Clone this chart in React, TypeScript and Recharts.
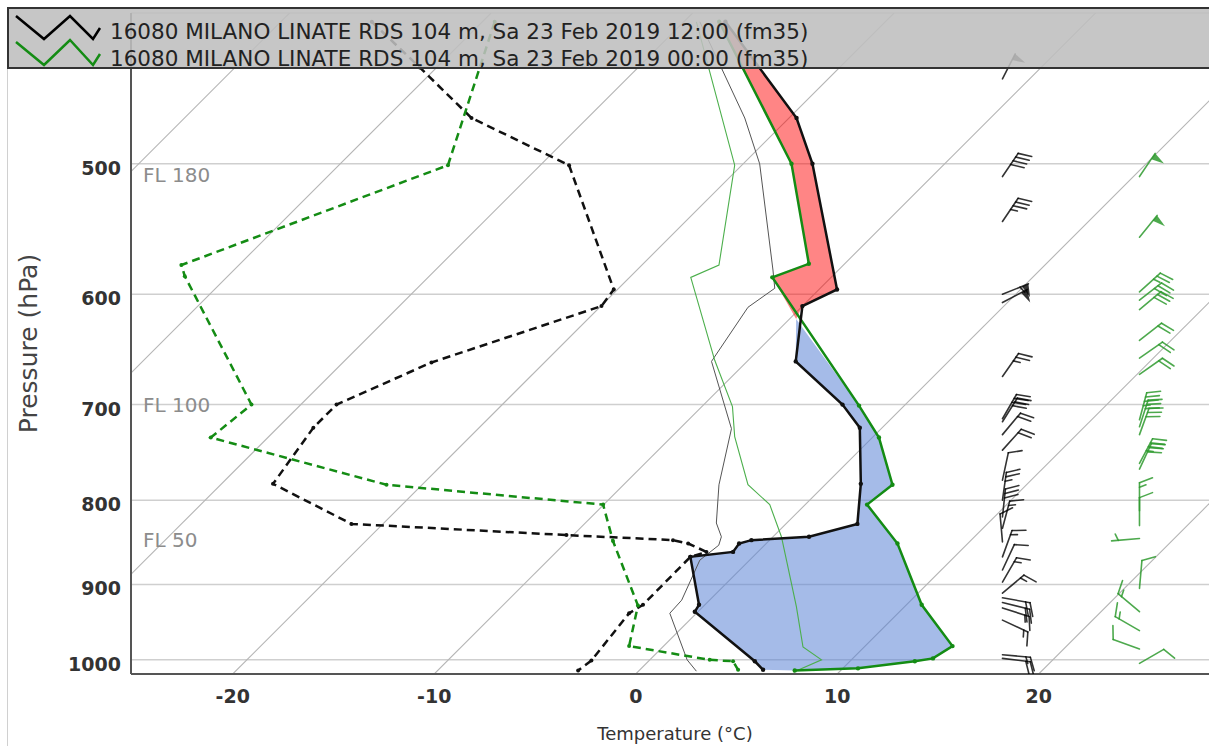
import React from 'react';
import { ScatterChart, Scatter, XAxis, YAxis, CartesianGrid, ReferenceLine } from 'recharts';

const WIDTH = 1209;
const HEIGHT = 746;

// axes
const tempTicks = [-20, -10, 0, 10, 20];
const pressureTicks = [500, 600, 700, 800, 900, 1000];
const isotherms = [-50, -40, -30, -20, -10, 0, 10, 20];
const flLabels = ['FL 180', 'FL 100', 'FL 50'];
const flPressure = [508, 700, 846];

const P_BOTTOM = 1020;
const P_TOP = 405;
const SKEW = 716 / 20.15; // x shift (°C) per unit of ln(p), 45° isotherms

// 12:00 sounding (black), x = skewed temperature position
const noonTempP = [410, 469, 500, 596, 610, 659, 700, 723, 782, 827, 842, 846, 850, 860, 866, 926, 935, 1002, 1014];
const noonTempT = [4.45, 7.98, 8.77, 9.99, 8.27, 7.94, 10.26, 11.12, 11.17, 11.0, 8.6, 5.74, 5.13, 4.83, 2.71, 3.14, 2.93, 5.91, 6.32];
const noonDewP = [410, 437, 469, 501, 596, 610, 660, 700, 723, 782, 827, 840, 846, 850, 860, 866, 926, 937, 1001, 1015];
const noonDewT = [-13.1, -10.72, -8.15, -3.31, -1.09, -1.7, -10.14, -14.85, -16.0, -18.0, -14.11, -3.44, 1.85, 2.6, 3.51, 2.71, 0.36, -0.33, -2.2, -2.86];
const noonWetP = [410, 469, 500, 580, 595, 611, 659, 724, 783, 826, 842, 852, 870, 920, 937, 1000, 1016];
const noonWetT = [3.18, 5.41, 6.15, 6.81, 6.9, 5.57, 3.76, 4.75, 4.13, 4.0, 4.25, 4.12, 3.18, 2.28, 1.69, 2.55, 3.01];

// 00:00 sounding (green)
const nightTempP = [410, 500, 575, 586, 701, 733, 783, 805, 850, 926, 981, 998, 1002, 1012, 1015];
const nightTempT = [4.14, 7.73, 8.59, 6.78, 11.08, 12.07, 12.74, 11.48, 12.99, 14.19, 15.72, 14.75, 13.85, 11.03, 7.89];
const nightDewP = [410, 501, 576, 585, 700, 733, 783, 805, 847, 927, 981, 1000, 1002, 1014];
const nightDewT = [-7.0, -9.32, -22.55, -22.38, -19.07, -21.09, -12.37, -1.62, -1.13, 0.11, -0.33, 3.67, 4.83, 5.08];
const nightWetP = [410, 501, 576, 586, 658, 702, 732, 783, 805, 842, 870, 928, 982, 1000, 1017];
const nightWetT = [3.01, 4.91, 4.13, 2.73, 3.92, 4.8, 4.91, 5.57, 6.65, 7.23, 7.48, 7.97, 8.3, 9.22, 7.84];

// where the two temperature curves cross
const crossing = { p: 621, t: 7.96 };

// winds (direction in degrees, speed in knots)
const noonWindP = [444, 509, 542, 600, 607, 673, 714, 717, 730, 746, 778, 800, 819, 832, 848, 866, 882, 897, 911, 917, 923, 930, 946, 993, 998];
const noonWindDir = [27, 34, 34, 68, 62, 35, 30, 32, 40, 42, 12, 8, 6, 15, 355, 20, 25, 30, 50, 100, 104, 108, 115, 95, 97];
const noonWindKt = [50, 40, 35, 55, 50, 25, 30, 30, 20, 20, 10, 25, 30, 15, 10, 15, 10, 15, 15, 20, 20, 15, 15, 15, 20];
const nightWindP = [509, 554, 598, 605, 613, 640, 656, 671, 715, 722, 730, 760, 766, 812, 829, 844, 905, 935, 960, 985, 1005];
const nightWindDir = [34, 39, 48, 52, 50, 52, 55, 55, 15, 18, 20, 28, 25, 0, 0, 265, 5, 310, 300, 290, 60];
const nightWindKt = [50, 50, 25, 30, 30, 20, 20, 20, 35, 30, 30, 35, 30, 15, 10, 5, 10, 15, 15, 10, 10];
const NOON_BARB_X = 18.2;
const NIGHT_BARB_X = 25.0;

const legendLabels = [
  '16080 MILANO LINATE RDS 104 m, Sa 23 Feb 2019 12:00 (fm35)',
  '16080 MILANO LINATE RDS 104 m, Sa 23 Feb 2019 00:00 (fm35)',
];

const toPoints = (ps: number[], ts: number[]) => ps.map((p, i) => ({ p, t: ts[i] }));

const noonTemp = toPoints(noonTempP, noonTempT);
const nightTemp = toPoints(nightTempP, nightTempT);

const redFill = [
  ...noonTemp.filter((d) => d.p < crossing.p),
  crossing,
  ...nightTemp.filter((d) => d.p < crossing.p).reverse(),
];
const blueFill = [
  crossing,
  ...noonTemp.filter((d) => d.p > crossing.p),
  ...nightTemp.filter((d) => d.p > crossing.p).reverse(),
];

const toWinds = (ps: number[], dirs: number[], kts: number[], x: number) =>
  ps.map((p, i) => ({ p, t: x, dir: dirs[i], kt: kts[i] }));

const BLACK = '#111';
const GREEN = '#148c14';

const noDot = () => <g />;
const dot = (color: string, r: number) => (props: any) =>
  props.cx == null ? <g /> : <circle cx={props.cx} cy={props.cy} r={r} fill={color} />;

const polygonLine = (fill: string, opacity: number) => (props: any) => {
  const pts = (props.points || []).map((pt: any) => `${pt.x},${pt.y}`).join(' ');
  return <polygon points={pts} fill={fill} fillOpacity={opacity} stroke="none" />;
};

const makeBarb = (color: string, opacity: number) => (props: any) => {
  const { cx, cy, payload } = props;
  if (cx == null || cy == null) return <g />;
  const a = (payload.dir * Math.PI) / 180;
  const ux = Math.sin(a);
  const uy = -Math.cos(a);
  const px = Math.cos(a);
  const py = Math.sin(a);
  const L = 28;
  const HGT = 13;
  const LEAN = 5;
  const GAP = 4.5;
  const FW = 7;
  let rest = Math.round(payload.kt / 5) * 5;
  const flags = Math.floor(rest / 50);
  rest -= flags * 50;
  const full = Math.floor(rest / 10);
  rest -= full * 10;
  const half = rest >= 5 ? 1 : 0;
  const at = (s: number) => [cx + ux * s, cy + uy * s];
  const els: any[] = [];
  const [tx, ty] = at(L);
  els.push(<line key="shaft" x1={cx} y1={cy} x2={tx} y2={ty} />);
  let pos = L;
  for (let i = 0; i < flags; i++) {
    const [x0, y0] = at(pos);
    const [x1, y1] = at(pos - FW);
    const [xm, ym] = at(pos - FW / 2);
    els.push(
      <polygon
        key={'flag' + i}
        points={`${x0},${y0} ${xm + px * HGT},${ym + py * HGT} ${x1},${y1}`}
        fill={color}
        stroke="none"
      />
    );
    pos -= FW + 2;
  }
  if (flags === 0 && full === 0 && half) pos -= GAP * 1.5;
  for (let i = 0; i < full; i++) {
    const [x0, y0] = at(pos);
    els.push(<line key={'full' + i} x1={x0} y1={y0} x2={x0 + px * HGT + ux * LEAN} y2={y0 + py * HGT + uy * LEAN} />);
    pos -= GAP;
  }
  if (half) {
    const [x0, y0] = at(pos);
    els.push(<line key="half" x1={x0} y1={y0} x2={x0 + px * HGT * 0.5 + ux * LEAN * 0.5} y2={y0 + py * HGT * 0.5 + uy * LEAN * 0.5} />);
  }
  return (
    <g stroke={color} strokeWidth={1.6} strokeOpacity={opacity} fillOpacity={opacity} strokeLinecap="round">
      {els}
    </g>
  );
};

const YTick = (props: any) => (
  <text x={props.x} y={props.y + 11} textAnchor="end" fontSize={19} fontWeight="bold" fill="#333">
    {props.payload.value}
  </text>
);

const XTick = (props: any) => (
  <text x={props.x} y={props.y + 23} textAnchor="middle" fontSize={19} fontWeight="bold" fill="#333">
    {props.payload.value}
  </text>
);

const Legend = () => (
  <svg width={WIDTH} height={HEIGHT} style={{ position: 'absolute', left: 0, top: 0, pointerEvents: 'none' }}>
    <line x1={7.5} y1={68} x2={7.5} y2={HEIGHT} stroke="#d0d0d0" strokeWidth={1} />
    <rect x={8} y={8} width={WIDTH} height={60} fill="rgb(190,190,190)" fillOpacity={0.88} stroke="#333" strokeWidth={2} />
    <polyline points="16,16 44,39 70,16 93,39 100,28" fill="none" stroke="#000" strokeWidth={2.5} />
    <polyline points="16,42 44,65 70,40 93,65 100,54" fill="none" stroke={GREEN} strokeWidth={2.5} />
    <text x={110} y={39} fontSize={21.5} fill="#222" fontFamily="DejaVu Sans">
      {legendLabels[0]}
    </text>
    <text x={110} y={66} fontSize={21.5} fill="#222" fontFamily="DejaVu Sans">
      {legendLabels[1]}
    </text>
  </svg>
);

export default function App() {
  const skewSpan = SKEW * Math.log(P_BOTTOM / P_TOP);
  return (
    <div style={{ position: 'absolute', left: 0, top: 0, width: WIDTH, height: HEIGHT, background: '#fff', overflow: 'hidden' }}>
      <ScatterChart
        width={WIDTH}
        height={HEIGHT}
        margin={{ top: 13, right: 0, bottom: 32, left: 51 }}
        style={{ fontFamily: 'DejaVu Sans' }}
      >
        <CartesianGrid vertical={false} stroke="#cfcfcf" strokeWidth={1.5} />
        <XAxis
          type="number"
          dataKey="t"
          domain={[-25.05, 28.45]}
          ticks={tempTicks}
          allowDataOverflow
          tickLine={false}
          tickMargin={0}
          height={40}
          axisLine={{ stroke: '#555', strokeWidth: 2 }}
          tick={XTick}
          label={{
            value: 'Temperature (°C)',
            content: (lp: any) => {
              const vb = lp.viewBox || { x: 131, width: 1078 };
              return (
                <text x={vb.x + vb.width / 2 + 5} y={740} textAnchor="middle" fontSize={18} fill="#333">
                  Temperature (°C)
                </text>
              );
            },
          }}
        />
        <YAxis
          type="number"
          dataKey="p"
          scale="log"
          domain={[P_TOP, P_BOTTOM]}
          ticks={pressureTicks}
          reversed
          allowDataOverflow
          width={80}
          tickLine={false}
          tickMargin={4}
          axisLine={{ stroke: '#555', strokeWidth: 2 }}
          tick={YTick}
          label={{
            value: 'Pressure (hPa)',
            content: (lp: any) => {
              const vb = lp.viewBox || { y: 13, height: 661 };
              const cy = vb.y + vb.height / 2;
              return (
                <text x={28} y={cy} transform={`rotate(-90, 28, ${cy})`} textAnchor="middle" dominantBaseline="central" fontSize={25} fill="#444">
                  Pressure (hPa)
                </text>
              );
            },
          }}
        />
        {isotherms.map((t) => (
          <ReferenceLine
            key={'iso' + t}
            segment={[
              { x: t, y: P_BOTTOM },
              { x: t + skewSpan, y: P_TOP },
            ]}
            stroke="#b5b5b5"
            strokeWidth={1.1}
            ifOverflow="hidden"
          />
        ))}
        {flLabels.map((lab, i) => (
          <ReferenceLine
            key={lab}
            y={flPressure[i]}
            stroke="none"
            label={{ value: lab, position: 'insideLeft', offset: 12, fill: '#8c8c8c', fontSize: 20 }}
          />
        ))}

        <Scatter data={redFill} isAnimationActive={false} shape={noDot} line={polygonLine('#ff0000', 0.48)} lineType="joint" />
        <Scatter data={blueFill} isAnimationActive={false} shape={noDot} line={polygonLine('#5b84d6', 0.55)} lineType="joint" />

        <Scatter
          data={toPoints(noonWetP, noonWetT)}
          isAnimationActive={false}
          shape={noDot}
          line={{ stroke: '#555', strokeWidth: 1 }}
          lineType="joint"
        />
        <Scatter
          data={toPoints(nightWetP, nightWetT)}
          isAnimationActive={false}
          shape={noDot}
          line={{ stroke: '#4caf4c', strokeWidth: 1.1 }}
          lineType="joint"
        />
        <Scatter
          data={toPoints(noonDewP, noonDewT)}
          isAnimationActive={false}
          shape={dot(BLACK, 2)}
          line={{ stroke: BLACK, strokeWidth: 2.5, strokeDasharray: '8 5' }}
          lineType="joint"
        />
        <Scatter
          data={toPoints(nightDewP, nightDewT)}
          isAnimationActive={false}
          shape={dot(GREEN, 2)}
          line={{ stroke: GREEN, strokeWidth: 2.5, strokeDasharray: '8 5' }}
          lineType="joint"
        />
        <Scatter
          data={nightTemp}
          isAnimationActive={false}
          shape={dot(GREEN, 2.2)}
          line={{ stroke: GREEN, strokeWidth: 2.5 }}
          lineType="joint"
        />
        <Scatter
          data={noonTemp}
          isAnimationActive={false}
          shape={dot(BLACK, 2.2)}
          line={{ stroke: BLACK, strokeWidth: 2.5 }}
          lineType="joint"
        />

        <Scatter
          data={toWinds(noonWindP, noonWindDir, noonWindKt, NOON_BARB_X)}
          isAnimationActive={false}
          shape={makeBarb('#000', 0.8)}
        />
        <Scatter
          data={toWinds(nightWindP, nightWindDir, nightWindKt, NIGHT_BARB_X)}
          isAnimationActive={false}
          shape={makeBarb('#2e9a2e', 0.85)}
        />
      </ScatterChart>
      <Legend />
    </div>
  );
}
